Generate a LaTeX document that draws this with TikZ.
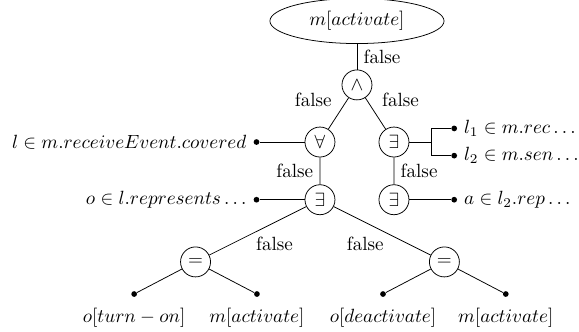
\documentclass[tikz,border=0pt]{standalone}
\usetikzlibrary{positioning,shapes.geometric}
\begin{document}
\begin{tikzpicture}[level 1/.style={level distance=1.174cm},
            level 2/.style={level distance=1.05cm, sibling distance=1.36cm},
            level 3/.style={level distance=1.06cm},
            level 4/.style={level distance=1.143cm, sibling distance=4.573cm},
            level 5/.style={level distance=0.59cm, sibling distance=2.256cm},
            op/.style = {draw, circle, minimum size=0.551cm, inner sep=0pt},
            dot/.style = {circle, fill, inner sep=0pt, minimum size=3pt},
            leaf/.style = {dot, label={[label distance=2pt]below:{#1}}}]
            \useasboundingbox (-6.56,0.386) rectangle (4.08,-5.70);
            \node[draw, ellipse, minimum width=3.2cm, minimum height=0.70cm] (root) {$m[activate]$}
            child { node[op] (and) {$\wedge$}
                child { node[op] (forall) {$\forall$}
                    child { node[op] (ex2) {$\exists$}
                        child { node[op] (eq1) {$=$}
                            child { node[leaf={$o[turn-on]$}] (t1) {} }
                            child { node[leaf={$m[activate]$}] (t2) {} }
                            edge from parent node[below right, inner sep=1pt, xshift=-2pt, yshift=-2pt] {false}
                        }
                        child { node[op] (eq2) {$=$}
                            child { node[leaf={$o[deactivate]$}] (t3) {} }
                            child { node[leaf={$m[activate]$}] (t4) {} }
                            edge from parent node[below left, inner sep=1pt, xshift=2pt, yshift=-2pt] {false}
                        }
                        edge from parent node[left] {false}
                    }
                    edge from parent node[above left] {false}
                }
                child { node[op] (ex1) {$\exists$}
                    child { node[op] (ex3) {$\exists$}
                        edge from parent node[right] {false}
                    }
                    edge from parent node[above right] {false}
                }
                edge from parent node[right] {false}
            };
            \node[dot, left=0.824cm of forall, label=left:{$l \in m.receiveEvent.covered$}] (v1) {};
            \node[dot, left=0.824cm of ex2, label=left:{$o \in l.represents\ldots$}] (v2) {};
            \coordinate (br) at ([xshift=0.4cm]ex1.east);
            \node[dot, label=right:{$l_1 \in m.rec\ldots$}] (v3) at ([xshift=0.824cm, yshift=0.25cm]ex1.east) {};
            \node[dot, label=right:{$l_2 \in m.sen\ldots$}] (v4) at ([xshift=0.824cm, yshift=-0.25cm]ex1.east) {};
            \node[dot, label=right:{$a \in l_2.rep\ldots$}] (v5) at ([xshift=0.824cm]ex3.east) {};
            \draw (forall) -- (v1);
            \draw (ex2) -- (v2);
            \draw (ex1) -- (br) |- (v3);
            \draw (br) |- (v4);
            \draw (ex3) -- (v5);
\end{tikzpicture}
\end{document}
